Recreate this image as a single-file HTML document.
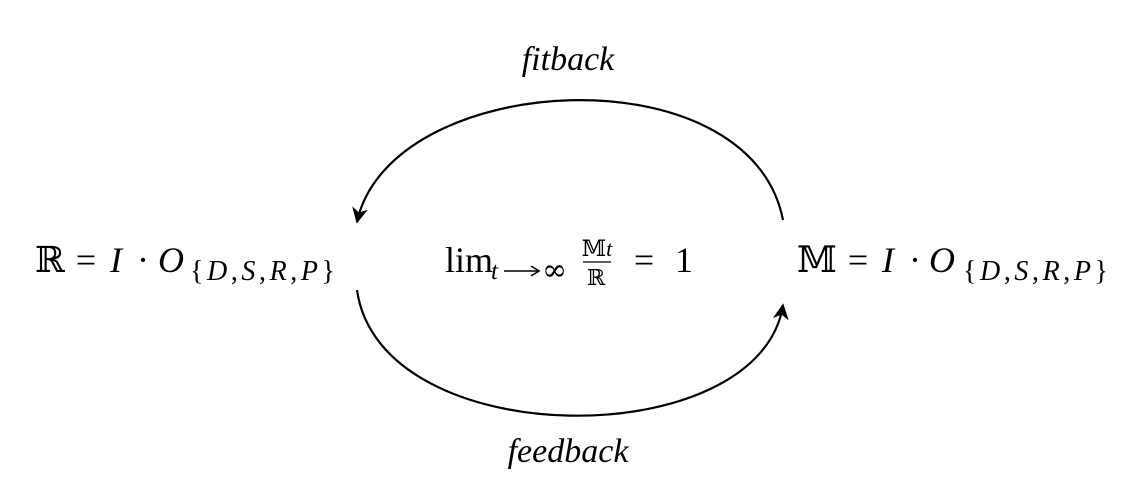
<!DOCTYPE html>
<html><head><meta charset="utf-8"><style>
body{margin:0;width:1138px;height:490px;background:#fff;overflow:hidden;font-family:"Liberation Serif","DejaVu Serif",serif;}
svg{position:absolute;left:0;top:0}
text{font-family:"Liberation Serif","DejaVu Serif",serif;fill:#000}
.i{font-style:italic}
</style></head><body>
<svg width="1138" height="490" viewBox="0 0 1138 490">
<defs><marker id="a" viewBox="0 0 10 10" refX="9" refY="5" markerWidth="18" markerHeight="16" orient="auto-start-reverse" markerUnits="userSpaceOnUse"><path d="M0,0 L10,5 L0,10 L3,5 z" fill="#000"/></marker></defs>
<path d="M783,220 C750,50 390,70 357,222" fill="none" stroke="#000" stroke-width="2.2" marker-end="url(#a)"/>
<path d="M357,290 C380,455 760,455 783,305" fill="none" stroke="#000" stroke-width="2.2" marker-end="url(#a)"/>
<text x="568" y="70" font-size="34" text-anchor="middle" class="i">fitback</text>
<text x="568" y="462" font-size="34" text-anchor="middle" class="i">feedback</text>
<g font-size="36">
<text x="35" y="272">ℝ</text><text x="86" y="272" text-anchor="middle">=</text><text x="110" y="272" class="i">I</text><text x="143" y="272" text-anchor="middle">·</text><text x="158" y="272" class="i">O</text>
<text x="797" y="272">𝕄</text><text x="858" y="272" text-anchor="middle">=</text><text x="882" y="272" class="i">I</text><text x="915" y="272" text-anchor="middle">·</text><text x="929" y="272" class="i">O</text>
<text x="445" y="272">lim</text>
<text x="644" y="272" text-anchor="middle">=</text><text x="675" y="272">1</text>
</g>
<g font-size="28">
<text x="190" y="280" textLength="145" lengthAdjust="spacing">{<tspan class="i">D</tspan>,<tspan class="i">S</tspan>,<tspan class="i">R</tspan>,<tspan class="i">P</tspan>}</text>
<text x="963" y="280" textLength="145" lengthAdjust="spacing">{<tspan class="i">D</tspan>,<tspan class="i">S</tspan>,<tspan class="i">R</tspan>,<tspan class="i">P</tspan>}</text>
<text x="491" y="279" font-size="25" class="i">t</text>
</g>
<line x1="504" y1="271" x2="537" y2="271" stroke="#000" stroke-width="1.6"/>
<path d="M531,266 L539,271 L531,276" fill="none" stroke="#000" stroke-width="1.6"/>
<text x="542" y="280" font-size="30" style="font-family:'DejaVu Serif',serif">∞</text>
<text x="597" y="256" font-size="22" text-anchor="middle">𝕄<tspan class="i">t</tspan></text>
<line x1="583" y1="262" x2="611" y2="262" stroke="#000" stroke-width="1.3"/>
<text x="596" y="285" font-size="22" text-anchor="middle">ℝ</text>
</svg>
</body></html>
